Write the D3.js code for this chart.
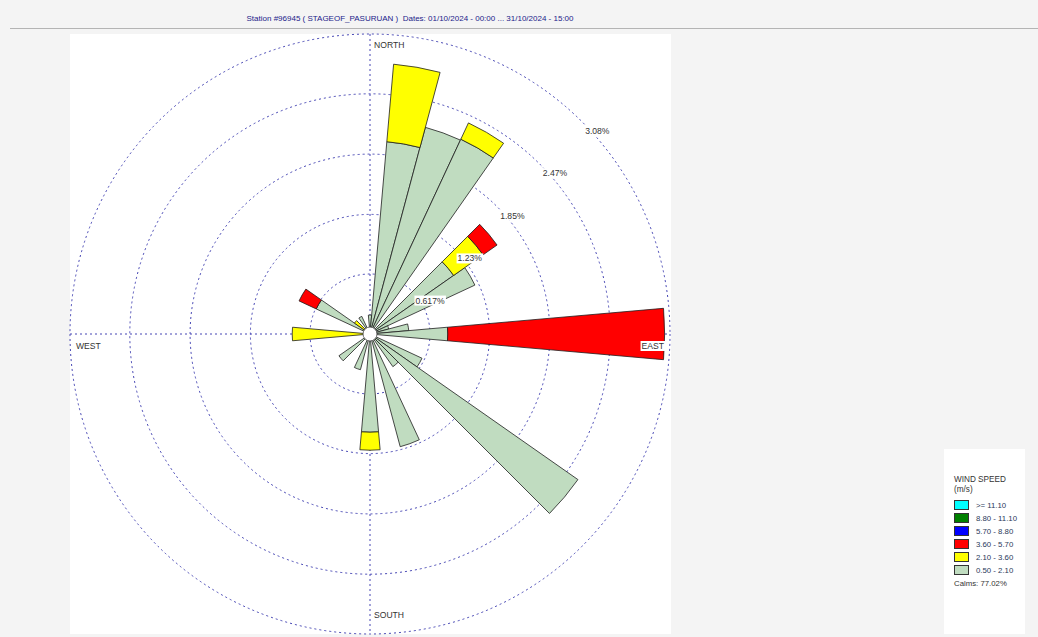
<!DOCTYPE html>
<html>
<head>
<meta charset="utf-8">
<script src="https://cdn.jsdelivr.net/npm/d3@7"></script>
<style>
  html, body { margin: 0; padding: 0; background: #f4f4f4; }
  svg { display: block; font-family: "Liberation Sans", Arial, sans-serif; }
</style>
</head>
<body>
<svg id="chart" width="1038" height="637"></svg>
<script>
// wind rose data, % of all observations per 10 degree sector
const directions = [0, 10, 20, 30, 50, 60, 70, 80, 90, 120, 130, 140, 160, 180, 200, 230, 270, 300, 310, 330];
const speed_050_210 = [0.195, 1.985, 2.20, 2.21, 1.05, 1.19, 0.20, 0.40, 0.80, 0.59, 2.61, 0.41, 1.20, 1.01, 0.38, 0.39, 0.05, 0.61, 0.00, 0.20];
const speed_210_360 = [0, 0.80, 0, 0.185, 0.37, 0, 0, 0, 0, 0, 0, 0, 0, 0.185, 0, 0, 0.75, 0, 0.195, 0];
const speed_360_570 = [0, 0, 0, 0, 0.175, 0, 0, 0, 2.23, 0, 0, 0, 0, 0, 0, 0, 0, 0.195, 0, 0];

const ringValues = [0.617, 1.23, 1.85, 2.47, 3.085];
const ringLabels = ["0.617%", "1.23%", "1.85%", "2.47%", "3.08%"];

const legendLabels = [">= 11.10", "8.80 - 11.10", "5.70 - 8.80", "3.60 - 5.70", "2.10 - 3.60", "0.50 - 2.10"];
const legendColors = ["#00ffff", "#008000", "#0000ff", "#ff0000", "#ffff00", "#c0dcc0"];
const calms = 77.02;

const title = "Station #96945 ( STAGEOF_PASURUAN )  Dates: 01/10/2024 - 00:00 ... 31/10/2024 - 15:00";

const svg = d3.select("#chart");
const cx = 370, cy = 334, R = 300;
const r = d3.scaleLinear().domain([0, 3.085]).range([0, R]);

// header
svg.append("text")
  .attr("x", 410).attr("y", 21)
  .attr("text-anchor", "middle")
  .attr("font-size", 8)
  .attr("fill", "#22228a")
  .style("white-space", "pre")
  .text(title);
svg.append("line")
  .attr("x1", 10).attr("x2", 1038).attr("y1", 28.5).attr("y2", 28.5)
  .attr("stroke", "#b4b4b4");

// plot area
svg.append("rect").attr("x", 70).attr("y", 34).attr("width", 601).attr("height", 600).attr("fill", "#fff");

const g = svg.append("g").attr("transform", `translate(${cx},${cy})`);
const gridColor = "#4646b4";

g.selectAll("circle.ring")
  .data(ringValues)
  .join("circle")
  .attr("class", "ring")
  .attr("r", (d) => r(d))
  .attr("fill", "none")
  .attr("stroke", gridColor)
  .attr("stroke-width", 1)
  .attr("stroke-dasharray", "2,3");

g.append("line").attr("x1", -R).attr("x2", R).attr("y1", 0).attr("y2", 0)
  .attr("stroke", gridColor).attr("stroke-dasharray", "2,3");
g.append("line").attr("x1", 0).attr("x2", 0).attr("y1", -R).attr("y2", R)
  .attr("stroke", gridColor).attr("stroke-dasharray", "2,3");

// stacked petals
const keys = ["s1", "s2", "s3"];
const keyColor = { s1: legendColors[5], s2: legendColors[4], s3: legendColors[3] };
const table = directions.map((dir, i) => ({
  dir: dir, s1: speed_050_210[i], s2: speed_210_360[i], s3: speed_360_570[i]
}));
const series = d3.stack().keys(keys)(table);

const arc = d3.arc();
const toRad = Math.PI / 180;

series.forEach((s) => {
  g.append("g")
    .selectAll("path")
    .data(s.filter((d) => d[1] - d[0] > 0))
    .join("path")
    .attr("d", (d) => arc({
      innerRadius: r(d[0]),
      outerRadius: r(d[1]),
      startAngle: (d.data.dir - 5) * toRad,
      endAngle: (d.data.dir + 5) * toRad
    }))
    .attr("fill", keyColor[s.key])
    .attr("stroke", "#1e1e1e")
    .attr("stroke-width", 0.8)
    .attr("stroke-linejoin", "miter");
});

// calm hole
g.append("circle").attr("r", 7).attr("fill", "#fff").attr("stroke", "#444").attr("stroke-width", 0.8);

// ring labels along 45 degrees
ringValues.forEach((v, i) => {
  const x = r(v) * Math.SQRT1_2 + 3;
  const y = -r(v) * Math.SQRT1_2 + 12;
  const t = g.append("text")
    .attr("x", x).attr("y", y)
    .attr("font-size", 8.6)
    .attr("fill", "#333")
    .text(ringLabels[i]);
  const b = t.node().getBBox();
  g.insert("rect", () => t.node())
    .attr("x", b.x - 1).attr("y", b.y).attr("width", b.width + 2).attr("height", b.height)
    .attr("fill", "#fff");
});

// compass labels
const compass = [
  { t: "NORTH", x: 4, y: -R + 14, a: "start" },
  { t: "WEST", x: -R + 6, y: 15, a: "start" },
  { t: "SOUTH", x: 4, y: R - 16, a: "start" },
  { t: "EAST", x: R - 6, y: 15, a: "end" }
];
compass.forEach((c) => {
  const t = g.append("text")
    .attr("x", c.x).attr("y", c.y)
    .attr("text-anchor", c.a)
    .attr("font-size", 8.6)
    .attr("fill", "#333")
    .text(c.t);
  if (c.t === "EAST") {
    const b = t.node().getBBox();
    g.insert("rect", () => t.node())
      .attr("x", b.x - 1).attr("y", b.y).attr("width", b.width + 2).attr("height", b.height)
      .attr("fill", "#fff");
  }
});

// legend
const lg = svg.append("g").attr("transform", "translate(944,449)");
lg.append("rect").attr("width", 81).attr("height", 185).attr("fill", "#fff");
lg.append("text").attr("x", 10).attr("y", 33).attr("font-size", 8.2).attr("fill", "#333").text("WIND SPEED");
lg.append("text").attr("x", 10).attr("y", 43).attr("font-size", 8.2).attr("fill", "#333").text("(m/s)");

const rowY = d3.scaleLinear().domain([0, legendLabels.length - 1]).range([56, 121]);
lg.selectAll("rect.sw")
  .data(legendLabels)
  .join("rect")
  .attr("class", "sw")
  .attr("x", 10.5).attr("y", (d, i) => rowY(i) - 4.5)
  .attr("width", 14).attr("height", 9)
  .attr("fill", (d, i) => legendColors[i])
  .attr("stroke", "#333").attr("stroke-width", 1);
lg.selectAll("text.lab")
  .data(legendLabels)
  .join("text")
  .attr("class", "lab")
  .attr("x", 32).attr("y", (d, i) => rowY(i) + 3)
  .attr("font-size", 7.8)
  .attr("fill", "#2a3a5a")
  .text((d) => d);
lg.append("text").attr("x", 10).attr("y", 137).attr("font-size", 7.8).attr("fill", "#333")
  .text(`Calms: ${calms.toFixed(2)}%`);
</script>
</body>
</html>
